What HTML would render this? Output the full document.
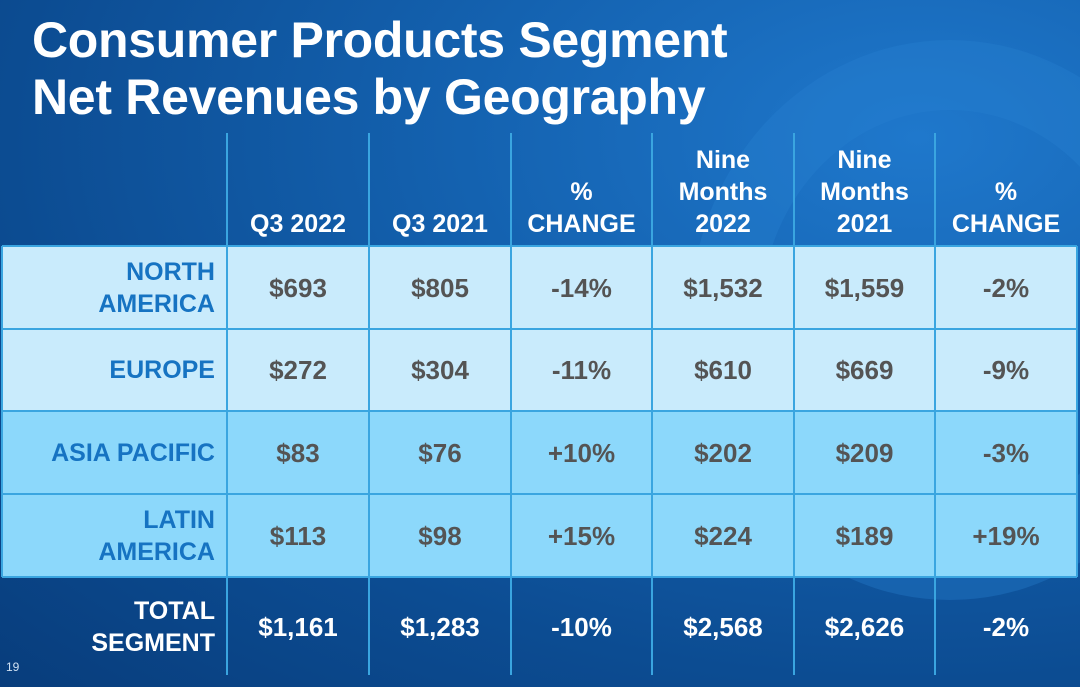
<!DOCTYPE html>
<html><head><meta charset="utf-8"><style>
html,body{margin:0;padding:0}
body{width:1080px;height:687px;overflow:hidden;position:relative;font-family:"Liberation Sans",Arial,sans-serif;font-weight:bold;}
#bg{position:absolute;left:0;top:0;width:1080px;height:687px;overflow:hidden;
background:radial-gradient(ellipse at 85% 20%,#1f78cc 0%,#1462b0 35%,#0c4c92 70%,#083d7c 100%);}
.ring{position:absolute;border-radius:50%;border:70px solid rgba(40,130,210,0.35)}
.title{position:absolute;left:32px;top:12px;color:#fff;font-size:50px;line-height:57px;letter-spacing:-0.3px}
.cell{position:absolute;display:flex;align-items:center;justify-content:center;text-align:center;box-sizing:border-box;font-size:26px;line-height:32px}
.hdr{color:#fff;align-items:flex-end;padding-bottom:6px;font-size:25px}
.lab{justify-content:flex-end;padding-right:12px;text-align:right;color:#1673c2;font-size:25px}
.val{color:#545454}
.tot{color:#fff}
.vl{position:absolute;width:2px;background:#3aa5e0}
.hl{position:absolute;height:2px;background:#3aa5e0;left:2px;width:1075px}
.pg{position:absolute;left:6px;top:660px;color:#cfe0f2;font-size:12px;font-weight:normal}
</style></head><body>
<div id="bg">
<div class="ring" style="left:690px;top:40px;width:380px;height:420px"></div>
</div>
<div class="title">Consumer Products Segment<br>Net Revenues by Geography</div>
<div id="tbl"></div>
<div class="pg">19</div>
<script>
const headers=["Q3 2022","Q3 2021","%<br>CHANGE","Nine<br>Months<br>2022","Nine<br>Months<br>2021","%<br>CHANGE"];
const regions=["NORTH<br>AMERICA","EUROPE","ASIA PACIFIC","LATIN<br>AMERICA","TOTAL<br>SEGMENT"];
const q3_2022=["$693","$272","$83","$113","$1,161"];
const q3_2021=["$805","$304","$76","$98","$1,283"];
const q3_change=["-14%","-11%","+10%","+15%","-10%"];
const nm_2022=["$1,532","$610","$202","$224","$2,568"];
const nm_2021=["$1,559","$669","$209","$189","$2,626"];
const nm_change=["-2%","-9%","-3%","+19%","-2%"];
const cols=[2,227,369,511,652,794,935,1077];
const rows=[246,329,411,494,577,677];
const fills=["#c9ebfc","#c9ebfc","#8cd8fb","#8cd8fb",null];
const t=document.getElementById('tbl');
function mk(cls,x,y,w,h,html){const d=document.createElement('div');d.className=cls;d.style.left=x+'px';d.style.top=y+'px';d.style.width=w+'px';d.style.height=h+'px';if(html!=null)d.innerHTML=html;t.appendChild(d);return d;}
for(let r=0;r<4;r++){const f=mk('cell',cols[0],rows[r],cols[7]-cols[0],rows[r+1]-rows[r]);f.style.background=fills[r];

}
headers.forEach((h,i)=>{const c=mk('cell hdr',cols[i+1],133,cols[i+2]-cols[i+1],113,h);

});
const series=[q3_2022,q3_2021,q3_change,nm_2022,nm_2021,nm_change];
regions.forEach((lab,r)=>{const tot=r===4;const top=rows[r]+(tot?4:0);const h=rows[r+1]-rows[r]-(tot?8:0);
const l=mk('cell lab'+(tot?' tot':''),cols[0],top,cols[1]-cols[0],h,lab);


series.forEach((s,i)=>{const c=mk('cell '+(tot?'tot':'val'),cols[i+1],top,cols[i+2]-cols[i+1],h,s[r]);

});});
for(let i=1;i<7;i++){const v=mk('vl',cols[i]-1,133,2,542);

}
[0,7].forEach(i=>{const v=mk('vl',cols[i]-1,rows[0],2,rows[4]-rows[0]);

});
for(let r=0;r<5;r++){const hl=mk('hl',2,rows[r]-1,1075,2);

}
</script>
</body></html>
